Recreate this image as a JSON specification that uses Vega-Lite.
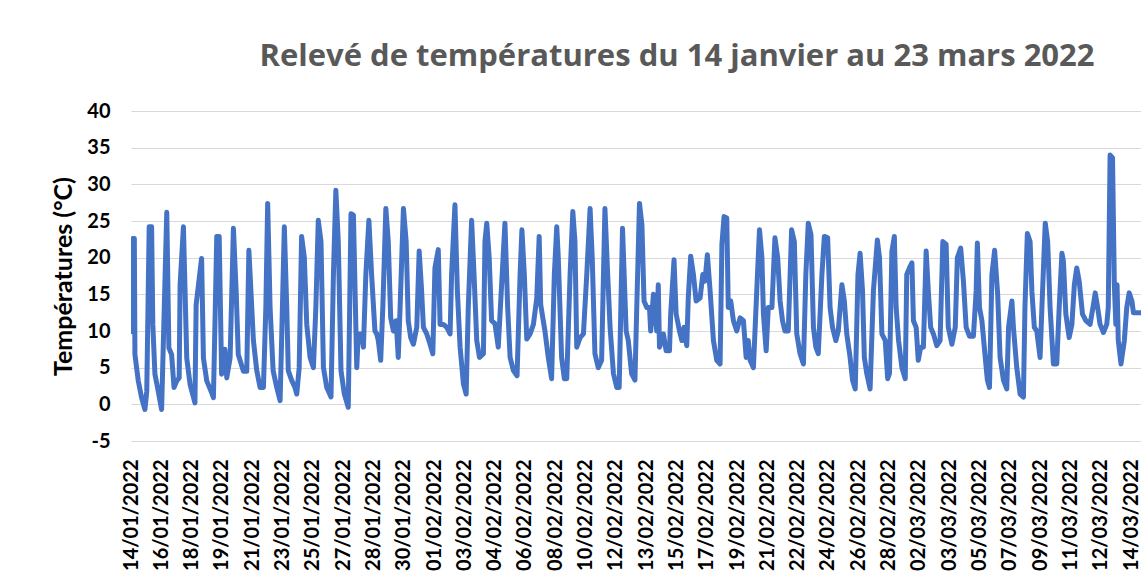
{
  "$schema": "https://vega.github.io/schema/vega-lite/v6.json",
  "width": 1010,
  "height": 330,
  "autosize": {"type": "none"},
  "padding": {"left": 131, "top": 111, "right": 0, "bottom": 143},
  "background": "white",
  "title": {
    "text": "Relevé de températures du 14 janvier au 23 mars 2022",
    "font": "Open Sans",
    "fontSize": 31,
    "fontWeight": "bold",
    "color": "#595959",
    "anchor": "middle",
    "dx": 41,
    "baseline": "alphabetic",
    "offset": 4
  },
  "data": {
    "values": [
      {"n": 0, "t": 9.9}, {"n": 0.6, "t": 22.6}, {"n": 1.1, "t": 22.6}, {"n": 1.3, "t": 6.8}, {"n": 2.4, "t": 3.2}, {"n": 3.5, "t": 0.9}, {"n": 4.6, "t": -0.7}, {"n": 5.2, "t": 1.8}, {"n": 6.0, "t": 24.2}, {"n": 6.8, "t": 24.2},
      {"n": 7.2, "t": 10.9}, {"n": 7.9, "t": 4.1}, {"n": 8.9, "t": 2.0}, {"n": 10.1, "t": -0.7}, {"n": 11.8, "t": 26.2}, {"n": 12.5, "t": 7.7}, {"n": 13.4, "t": 6.8}, {"n": 14.2, "t": 2.3}, {"n": 15.1, "t": 3.2}, {"n": 15.9, "t": 3.6},
      {"n": 16.2, "t": 16.3}, {"n": 17.3, "t": 24.2}, {"n": 18.4, "t": 6.3}, {"n": 19.5, "t": 2.7}, {"n": 21.1, "t": 0.2}, {"n": 21.5, "t": 13.6}, {"n": 23.3, "t": 19.9}, {"n": 23.9, "t": 6.3}, {"n": 25.0, "t": 3.2}, {"n": 26.6, "t": 1.6},
      {"n": 27.2, "t": 0.9}, {"n": 28.3, "t": 22.9}, {"n": 29.1, "t": 22.9}, {"n": 29.9, "t": 4.1}, {"n": 31.0, "t": 7.5}, {"n": 31.6, "t": 3.6}, {"n": 32.7, "t": 6.3}, {"n": 33.8, "t": 24.0}, {"n": 34.7, "t": 15.4}, {"n": 35.4, "t": 6.8},
      {"n": 37.1, "t": 4.5}, {"n": 38.2, "t": 4.5}, {"n": 38.9, "t": 21.0}, {"n": 40.4, "t": 8.7}, {"n": 41.5, "t": 4.6}, {"n": 42.6, "t": 2.3}, {"n": 43.7, "t": 2.3}, {"n": 44.5, "t": 13.2}, {"n": 45.1, "t": 27.4}, {"n": 45.9, "t": 13.2},
      {"n": 46.9, "t": 4.6}, {"n": 48.1, "t": 2.3}, {"n": 49.2, "t": 0.5}, {"n": 49.7, "t": 8.7}, {"n": 50.6, "t": 24.2}, {"n": 51.4, "t": 13.2}, {"n": 51.9, "t": 4.6}, {"n": 53.0, "t": 3.3}, {"n": 54.1, "t": 2.3}, {"n": 54.7, "t": 1.4},
      {"n": 55.5, "t": 5.0}, {"n": 56.3, "t": 22.9}, {"n": 57.2, "t": 20.0}, {"n": 58.0, "t": 10.9}, {"n": 59.1, "t": 6.4}, {"n": 60.2, "t": 5.0}, {"n": 61.0, "t": 13.2}, {"n": 61.8, "t": 25.1}, {"n": 62.7, "t": 22.2}, {"n": 63.5, "t": 5.0},
      {"n": 64.6, "t": 2.3}, {"n": 66.0, "t": 1.0}, {"n": 66.8, "t": 17.7}, {"n": 67.6, "t": 29.2}, {"n": 68.4, "t": 22.2}, {"n": 69.3, "t": 4.6}, {"n": 70.4, "t": 1.4}, {"n": 71.7, "t": -0.4}, {"n": 72.6, "t": 26.0}, {"n": 73.4, "t": 25.8},
      {"n": 74.5, "t": 5.0}, {"n": 75.0, "t": 9.6}, {"n": 76.1, "t": 9.6}, {"n": 76.7, "t": 7.8}, {"n": 77.5, "t": 17.7}, {"n": 78.5, "t": 25.1}, {"n": 79.4, "t": 17.7}, {"n": 80.5, "t": 10.0}, {"n": 81.1, "t": 9.6}, {"n": 81.6, "t": 8.7},
      {"n": 82.4, "t": 6.0}, {"n": 83.1, "t": 13.2}, {"n": 84.1, "t": 26.7}, {"n": 84.9, "t": 22.2}, {"n": 85.7, "t": 11.8}, {"n": 86.6, "t": 10.0}, {"n": 87.5, "t": 11.4}, {"n": 88.2, "t": 6.4}, {"n": 88.8, "t": 13.2}, {"n": 89.9, "t": 26.7},
      {"n": 90.8, "t": 22.2}, {"n": 91.5, "t": 11.4}, {"n": 92.3, "t": 9.1}, {"n": 93.2, "t": 8.2}, {"n": 94.3, "t": 10.5}, {"n": 95.1, "t": 20.9}, {"n": 95.9, "t": 15.5}, {"n": 96.5, "t": 10.5}, {"n": 97.6, "t": 9.6}, {"n": 98.7, "t": 8.2},
      {"n": 99.6, "t": 6.9}, {"n": 100.3, "t": 18.6}, {"n": 101.4, "t": 21.1}, {"n": 102.0, "t": 10.9}, {"n": 103.1, "t": 10.9}, {"n": 104.2, "t": 10.5}, {"n": 105.3, "t": 9.6}, {"n": 105.8, "t": 17.7}, {"n": 106.9, "t": 27.2}, {"n": 107.7, "t": 15.5},
      {"n": 108.6, "t": 7.8}, {"n": 109.7, "t": 2.8}, {"n": 110.6, "t": 1.4}, {"n": 111.3, "t": 13.2}, {"n": 112.4, "t": 25.1}, {"n": 113.2, "t": 17.7}, {"n": 114.1, "t": 8.7}, {"n": 115.0, "t": 6.4}, {"n": 116.3, "t": 6.9}, {"n": 116.8, "t": 22.2},
      {"n": 117.4, "t": 24.7}, {"n": 118.2, "t": 20.0}, {"n": 119.0, "t": 11.4}, {"n": 120.1, "t": 11.0}, {"n": 121.2, "t": 7.8}, {"n": 123.4, "t": 24.7}, {"n": 124.3, "t": 13.2}, {"n": 125.1, "t": 6.4}, {"n": 126.2, "t": 4.6}, {"n": 127.4, "t": 3.9},
      {"n": 128.4, "t": 17.7}, {"n": 129.0, "t": 23.8}, {"n": 129.8, "t": 17.7}, {"n": 130.6, "t": 8.9}, {"n": 131.7, "t": 9.6}, {"n": 132.8, "t": 10.9}, {"n": 133.9, "t": 14.5}, {"n": 134.7, "t": 22.9}, {"n": 135.2, "t": 13.6}, {"n": 136.6, "t": 10.0},
      {"n": 137.7, "t": 6.4}, {"n": 138.8, "t": 3.5}, {"n": 139.7, "t": 17.7}, {"n": 140.5, "t": 24.2}, {"n": 141.0, "t": 20.0}, {"n": 142.1, "t": 6.4}, {"n": 143.0, "t": 3.5}, {"n": 143.8, "t": 3.5}, {"n": 144.9, "t": 17.7}, {"n": 145.8, "t": 26.3},
      {"n": 146.5, "t": 22.2}, {"n": 147.1, "t": 7.8}, {"n": 148.2, "t": 9.1}, {"n": 149.3, "t": 9.6}, {"n": 150.4, "t": 17.7}, {"n": 151.5, "t": 26.7}, {"n": 152.2, "t": 20.0}, {"n": 153.1, "t": 6.9}, {"n": 154.2, "t": 5.0}, {"n": 155.3, "t": 6.0},
      {"n": 156.4, "t": 26.7}, {"n": 157.3, "t": 17.7}, {"n": 158.1, "t": 10.5}, {"n": 159.2, "t": 4.2}, {"n": 160.3, "t": 2.3}, {"n": 161.1, "t": 2.3}, {"n": 162.2, "t": 24.0}, {"n": 163.4, "t": 10.0}, {"n": 164.1, "t": 8.7}, {"n": 165.2, "t": 4.2},
      {"n": 166.3, "t": 3.3}, {"n": 166.9, "t": 13.2}, {"n": 167.8, "t": 27.4}, {"n": 168.6, "t": 24.5}, {"n": 169.3, "t": 14.1}, {"n": 170.2, "t": 13.2}, {"n": 171.1, "t": 13.2}, {"n": 171.5, "t": 10.0}, {"n": 172.4, "t": 15.0}, {"n": 173.5, "t": 10.0},
      {"n": 174.0, "t": 16.3}, {"n": 174.4, "t": 7.8}, {"n": 175.1, "t": 8.7}, {"n": 175.7, "t": 9.6}, {"n": 176.6, "t": 7.3}, {"n": 177.7, "t": 7.3}, {"n": 178.1, "t": 12.3}, {"n": 179.2, "t": 19.7}, {"n": 179.9, "t": 12.3}, {"n": 181.0, "t": 10.0},
      {"n": 181.8, "t": 8.7}, {"n": 182.5, "t": 10.5}, {"n": 183.4, "t": 8.0}, {"n": 183.9, "t": 14.5}, {"n": 184.7, "t": 20.2}, {"n": 185.6, "t": 17.7}, {"n": 186.5, "t": 14.1}, {"n": 187.8, "t": 14.5}, {"n": 188.7, "t": 17.7}, {"n": 189.4, "t": 16.8},
      {"n": 190.2, "t": 20.4}, {"n": 191.1, "t": 15.5}, {"n": 192.2, "t": 8.7}, {"n": 193.3, "t": 6.0}, {"n": 194.4, "t": 5.5}, {"n": 195.0, "t": 21.8}, {"n": 195.7, "t": 25.6}, {"n": 196.6, "t": 25.4}, {"n": 197.1, "t": 13.2}, {"n": 197.9, "t": 14.1},
      {"n": 198.8, "t": 11.4}, {"n": 199.9, "t": 10.0}, {"n": 201.0, "t": 11.8}, {"n": 202.1, "t": 11.4}, {"n": 203.0, "t": 6.4}, {"n": 203.7, "t": 8.7}, {"n": 204.3, "t": 6.0}, {"n": 205.4, "t": 5.0}, {"n": 206.5, "t": 15.5}, {"n": 207.4, "t": 23.8},
      {"n": 208.2, "t": 20.0}, {"n": 208.7, "t": 12.3}, {"n": 209.6, "t": 7.3}, {"n": 210.3, "t": 13.2}, {"n": 211.5, "t": 13.2}, {"n": 212.5, "t": 22.7}, {"n": 213.4, "t": 20.0}, {"n": 214.2, "t": 14.1}, {"n": 215.0, "t": 11.4}, {"n": 215.8, "t": 10.0},
      {"n": 216.9, "t": 10.0}, {"n": 218.0, "t": 23.8}, {"n": 218.9, "t": 22.2}, {"n": 219.7, "t": 9.6}, {"n": 220.8, "t": 6.9}, {"n": 221.9, "t": 5.5}, {"n": 222.7, "t": 17.7}, {"n": 223.5, "t": 24.7}, {"n": 224.4, "t": 23.1}, {"n": 225.2, "t": 10.5},
      {"n": 226.0, "t": 7.8}, {"n": 226.8, "t": 6.9}, {"n": 228.0, "t": 17.7}, {"n": 228.8, "t": 22.9}, {"n": 229.9, "t": 22.7}, {"n": 230.7, "t": 13.2}, {"n": 231.5, "t": 10.5}, {"n": 232.6, "t": 8.7}, {"n": 233.4, "t": 10.0}, {"n": 234.6, "t": 16.3},
      {"n": 235.4, "t": 14.1}, {"n": 236.2, "t": 9.6}, {"n": 237.3, "t": 6.4}, {"n": 238.1, "t": 3.3}, {"n": 239.0, "t": 2.1}, {"n": 239.9, "t": 17.7}, {"n": 240.6, "t": 20.6}, {"n": 241.4, "t": 15.5}, {"n": 242.0, "t": 6.4}, {"n": 242.8, "t": 4.2},
      {"n": 243.9, "t": 2.1}, {"n": 245.0, "t": 15.5}, {"n": 246.3, "t": 22.4}, {"n": 247.0, "t": 20.0}, {"n": 247.8, "t": 9.6}, {"n": 248.9, "t": 8.7}, {"n": 249.7, "t": 3.5}, {"n": 250.3, "t": 4.2}, {"n": 251.1, "t": 20.9}, {"n": 251.9, "t": 22.9},
      {"n": 252.5, "t": 13.2}, {"n": 253.3, "t": 8.7}, {"n": 254.4, "t": 5.0}, {"n": 255.5, "t": 3.5}, {"n": 256.0, "t": 17.7}, {"n": 256.9, "t": 18.6}, {"n": 257.7, "t": 19.3}, {"n": 258.2, "t": 11.4}, {"n": 259.1, "t": 10.5}, {"n": 259.8, "t": 6.0},
      {"n": 260.6, "t": 7.8}, {"n": 261.5, "t": 7.8}, {"n": 262.4, "t": 20.9}, {"n": 263.1, "t": 15.5}, {"n": 263.9, "t": 10.5}, {"n": 264.8, "t": 9.6}, {"n": 265.9, "t": 8.0}, {"n": 267.0, "t": 8.7}, {"n": 267.9, "t": 22.2}, {"n": 269.0, "t": 21.8},
      {"n": 269.7, "t": 10.5}, {"n": 270.9, "t": 8.2}, {"n": 272.0, "t": 10.5}, {"n": 272.7, "t": 20.0}, {"n": 273.8, "t": 21.3}, {"n": 274.7, "t": 16.8}, {"n": 275.6, "t": 10.5}, {"n": 276.7, "t": 9.3}, {"n": 278.0, "t": 9.3}, {"n": 278.9, "t": 15.5},
      {"n": 279.3, "t": 22.0}, {"n": 280.0, "t": 13.2}, {"n": 280.8, "t": 11.4}, {"n": 281.9, "t": 6.4}, {"n": 282.6, "t": 3.3}, {"n": 283.3, "t": 2.3}, {"n": 284.1, "t": 17.7}, {"n": 285.0, "t": 21.0}, {"n": 286.0, "t": 15.0}, {"n": 286.8, "t": 6.4},
      {"n": 287.9, "t": 3.3}, {"n": 289.0, "t": 2.1}, {"n": 289.6, "t": 10.5}, {"n": 290.7, "t": 14.1}, {"n": 291.2, "t": 10.5}, {"n": 292.3, "t": 5.0}, {"n": 293.4, "t": 1.4}, {"n": 294.5, "t": 1.0}, {"n": 295.0, "t": 13.2}, {"n": 295.8, "t": 23.3},
      {"n": 296.7, "t": 22.2}, {"n": 297.3, "t": 15.4}, {"n": 298.1, "t": 10.5}, {"n": 298.9, "t": 10.0}, {"n": 300.0, "t": 6.4}, {"n": 300.6, "t": 13.2}, {"n": 301.7, "t": 24.7}, {"n": 302.5, "t": 22.2}, {"n": 303.3, "t": 13.2}, {"n": 304.4, "t": 5.5},
      {"n": 305.5, "t": 5.5}, {"n": 306.3, "t": 13.2}, {"n": 307.2, "t": 20.6}, {"n": 307.7, "t": 19.5}, {"n": 308.5, "t": 12.3}, {"n": 309.6, "t": 9.1}, {"n": 310.5, "t": 10.9}, {"n": 311.3, "t": 16.3}, {"n": 312.1, "t": 18.6}, {"n": 312.9, "t": 16.8},
      {"n": 314.0, "t": 12.3}, {"n": 315.1, "t": 11.4}, {"n": 316.5, "t": 10.9}, {"n": 317.6, "t": 13.6}, {"n": 318.2, "t": 15.2}, {"n": 319.0, "t": 13.2}, {"n": 319.8, "t": 10.9}, {"n": 320.9, "t": 9.8}, {"n": 322.0, "t": 10.9}, {"n": 322.5, "t": 13.2},
      {"n": 323.1, "t": 34.0}, {"n": 323.9, "t": 33.6}, {"n": 324.5, "t": 16.3}, {"n": 325.0, "t": 10.9}, {"n": 325.4, "t": 16.3}, {"n": 325.8, "t": 8.7}, {"n": 326.7, "t": 5.5}, {"n": 327.8, "t": 8.7}, {"n": 328.6, "t": 13.2}, {"n": 329.4, "t": 15.2},
      {"n": 330.3, "t": 14.1}, {"n": 330.8, "t": 12.5}, {"n": 333.3, "t": 12.5}
    ]
  },
  "mark": {"type": "line", "color": "#4472C4", "strokeWidth": 5, "strokeJoin": "round", "strokeCap": "round", "clip": true},
  "encoding": {
    "x": {
      "field": "n",
      "type": "quantitative",
      "scale": {"domain": [0, 333.3], "nice": false, "zero": false},
      "axis": {
        "title": null,
        "values": [0, 10, 20, 30, 40, 50, 60, 70, 80, 90, 100, 110, 120, 130, 140, 150, 160, 170, 180, 190, 200, 210, 220, 230, 240, 250, 260, 270, 280, 290, 300, 310, 320, 330],
        "labelExpr": "['14/01/2022','16/01/2022','18/01/2022','19/01/2022','21/01/2022','23/01/2022','25/01/2022','27/01/2022','28/01/2022','30/01/2022','01/02/2022','03/02/2022','04/02/2022','06/02/2022','08/02/2022','10/02/2022','12/02/2022','13/02/2022','15/02/2022','17/02/2022','19/02/2022','21/02/2022','22/02/2022','24/02/2022','26/02/2022','28/02/2022','02/03/2022','03/03/2022','05/03/2022','07/03/2022','09/03/2022','11/03/2022','12/03/2022','14/03/2022'][round(datum.value/10)]",
        "labelAngle": -90,
        "labelFont": "Lato",
        "labelFontSize": 20,
        "labelFontWeight": "bold",
        "labelColor": "#000000",
        "labelPadding": 18,
        "labelOverlap": false,
        "labelBound": false,
        "labelFlush": false,
        "ticks": false,
        "domain": false,
        "grid": false
      }
    },
    "y": {
      "field": "t",
      "type": "quantitative",
      "title": "Températures (°C)",
      "scale": {"domain": [-5, 40], "nice": false, "zero": false},
      "axis": {
        "titleFont": "Lato",
        "titleFontSize": 25,
        "titleFontWeight": "bold",
        "titleColor": "#000000",
        "titleLimit": 1000,
        "titleX": -68,
        "titleBaseline": "middle",
        "values": [-5, 0, 5, 10, 15, 20, 25, 30, 35, 40],
        "labelExpr": "datum.value < 0 ? '-' + abs(datum.value) : datum.label",
        "labelFont": "Lato",
        "labelFontSize": 20,
        "labelFontWeight": "bold",
        "labelColor": "#000000",
        "labelPadding": 21,
        "ticks": false,
        "domain": false,
        "grid": true,
        "gridColor": "#d9d9d9",
        "gridWidth": 1.2
      }
    }
  },
  "config": {
    "view": {"stroke": null}
  }
}
